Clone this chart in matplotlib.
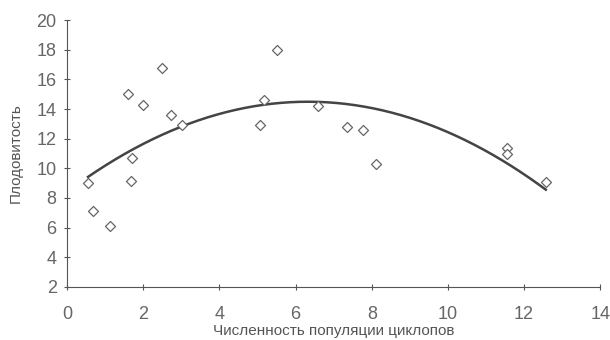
import numpy as np
import matplotlib
matplotlib.use('Agg')
import matplotlib.pyplot as plt

plt.rcParams['font.family'] = ['Liberation Sans', 'DejaVu Sans']

# data
cyclops = [0.55, 0.68, 1.13, 1.61, 1.68, 1.70, 2.00, 2.50, 2.73, 3.03,
           5.07, 5.18, 5.52, 6.60, 7.35, 7.78, 8.10, 11.55, 11.55, 12.57]
fertility = [9.0, 7.1, 6.1, 15.0, 9.15, 10.7, 14.3, 16.8, 13.6, 12.9,
             12.9, 14.6, 18.0, 14.2, 12.8, 12.6, 10.3, 11.35, 11.0, 9.1]
xticks = [0, 2, 4, 6, 8, 10, 12, 14]
yticks = [2, 4, 6, 8, 10, 12, 14, 16, 18, 20]

grey = '#555555'

fig = plt.figure(figsize=(6.1, 3.4), dpi=100)
ax = fig.add_axes([0.110, 0.156, 0.874, 0.785])

ax.scatter(cyclops, fertility, marker='D', s=26, facecolors='white',
           edgecolors='#666666', linewidths=0.9, zorder=3)

# polynomial trend (2nd order)
co = np.polyfit(cyclops, fertility, 2)
xm = np.linspace(min(cyclops), max(cyclops), 200)
ax.plot(xm, np.polyval(co, xm), color='#444444', linewidth=1.8, zorder=2)

ax.set_xlim(0, 14)
ax.set_ylim(2, 20)
ax.set_xticks(xticks)
ax.set_yticks(yticks)
for s in ['top', 'right']:
    ax.spines[s].set_visible(False)
for s in ['left', 'bottom']:
    ax.spines[s].set_color(grey)
ax.tick_params(direction='inout', length=5, color=grey, labelcolor='#666666',
               labelsize=13)
ax.tick_params(axis='x', pad=11)
ax.tick_params(axis='y', pad=5)

ax.set_xlabel('Численность популяции циклопов', color=grey, fontsize=11,
              labelpad=1)
ax.set_ylabel('Плодовитость', color=grey, fontsize=11, labelpad=10)

plt.savefig('out.png', dpi=100)
